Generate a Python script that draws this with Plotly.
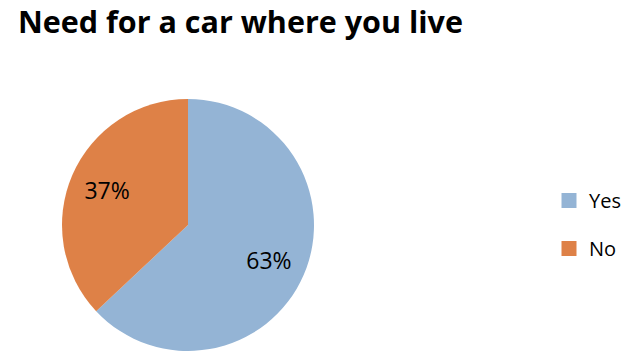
import plotly.graph_objects as go

# chart data
labels = ["Yes", "No"]
values = [63, 37]
colors = ["#94B4D5", "#DE8147"]

# the page body adds an 8px margin, so the figure is 8px smaller than the window
W, H = 624, 343
FONT = "Open Sans"

fig = go.Figure()

pie_domain = dict(x=[53 / W, 307 / W], y=[0, 252 / H])

# solid pie
fig.add_trace(go.Pie(
    labels=labels,
    values=values,
    sort=False,
    direction="clockwise",
    rotation=0,
    marker=dict(colors=colors, line=dict(width=0)),
    textinfo="none",
    domain=pie_domain,
    showlegend=False,
    hoverinfo="label+percent",
))

# transparent ring on top, only to place the percent labels at ~0.7 r
fig.add_trace(go.Pie(
    labels=labels,
    values=values,
    sort=False,
    direction="clockwise",
    rotation=0,
    hole=0.4,
    marker=dict(colors=["rgba(0,0,0,0)"] * len(labels), line=dict(width=0)),
    texttemplate="%{percent:.0%}",
    textposition="inside",
    insidetextorientation="horizontal",
    textfont=dict(family=FONT, size=23, color="#000000"),
    domain=pie_domain,
    showlegend=False,
    hoverinfo="skip",
))

# legend entries
for lab, col in zip(labels, colors):
    fig.add_trace(go.Scatter(
        x=[None], y=[None],
        mode="markers",
        name=lab,
        legendgroup=lab,
        marker=dict(symbol="square", size=15, color=col),
    ))

fig.update_layout(
    width=W,
    height=H,
    margin=dict(l=0, r=0, t=0, b=0),
    paper_bgcolor="white",
    plot_bgcolor="white",
    font=dict(family=FONT, color="#000000"),
    xaxis=dict(visible=False),
    yaxis=dict(visible=False),
    title=dict(
        text="<b>Need for a car where you live</b>",
        x=10 / W, xanchor="left",
        y=1 - 4 / H, yanchor="top", yref="container",
        font=dict(family=FONT, size=30.5, color="#000000"),
    ),
    legend=dict(
        x=541 / W, xanchor="left",
        y=1 - 173 / H, yanchor="top",
        font=dict(family=FONT, size=20),
        itemwidth=30,
        tracegroupgap=19,
        bgcolor="rgba(0,0,0,0)",
    ),
)

fig.write_html("out.html")
